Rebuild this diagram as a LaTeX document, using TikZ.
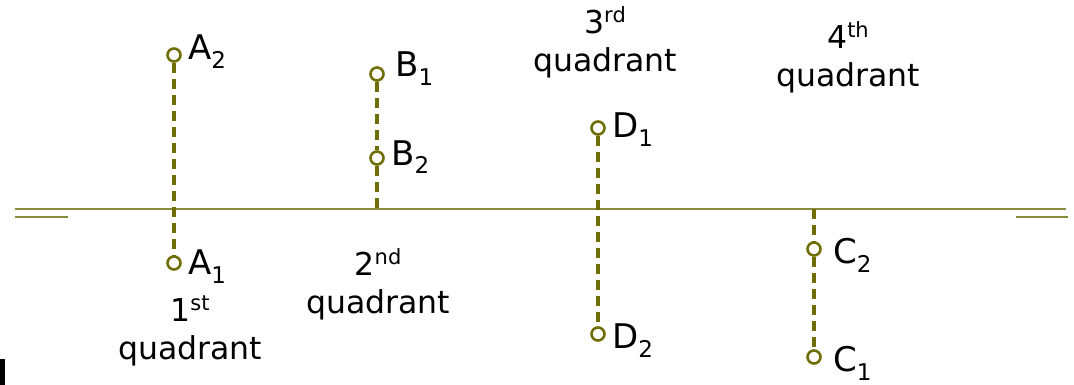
\documentclass[tikz,border=0pt]{standalone}
\usepackage{fontspec}
\setmainfont{DejaVu Sans}
\definecolor{olive1}{HTML}{6E6E05}
\definecolor{axisc}{HTML}{8C8C40}
\begin{document}
\begin{tikzpicture}[x=1pt,y=-1pt,
  pt/.style={circle,draw=olive1,line width=2.6pt,fill=white,minimum size=13pt,inner sep=0pt},
  dl/.style={draw=olive1,line width=4.6pt,dash pattern=on 10pt off 6pt},
  lab/.style={anchor=base west,inner sep=0pt,font=\fontsize{34}{34}\selectfont},
  quad/.style={align=center,inner sep=0pt,font=\fontsize{31.5}{38}\selectfont},
  axis/.style={draw=axisc,line width=2.5pt}]
\useasboundingbox (0,0) rectangle (1074,385);
\newcommand{\sbs}[1]{\raisebox{-9pt}{\fontsize{23}{23}\selectfont #1}}
\newcommand{\sps}[1]{\raisebox{11pt}{\fontsize{21}{21}\selectfont #1}}
% axis
\coordinate (axL) at (15,209);
\coordinate (axR) at (1066,209);
\draw[axis] (axL) -- (axR);
\coordinate (sL1) at (15,217); \coordinate (sL2) at (68,217);
\coordinate (sR1) at (1016,217); \coordinate (sR2) at (1068,217);
\draw[axis,line width=2.8pt] (sL1) -- (sL2);
\draw[axis,line width=2.8pt] (sR1) -- (sR2);
\coordinate (Bax) at (377,209);
\coordinate (Cax) at (814,209);
% points
\node[pt] (A2) at (174,55) {};
\node[pt] (A1) at (174,263) {};
\node[pt] (B1) at (377,74) {};
\node[pt] (B2) at (377,158) {};
\node[pt] (D1) at (598,128) {};
\node[pt] (D2) at (598,334) {};
\node[pt] (C2) at (814,249) {};
\node[pt] (C1) at (814,357) {};
\draw[dl] (A2) -- (A1);
\draw[dl] (B1) -- (B2);
\draw[dl] (B2) -- (Bax);
\draw[dl] (D1) -- (D2);
\draw[dl] (Cax) -- (C2);
\draw[dl] (C2) -- (C1);
% labels
\node[lab] (lA2) at (188,60) {A\sbs{2}};
\node[lab] (lA1) at (188,274) {A\sbs{1}};
\node[lab] (lB1) at (395,77) {B\sbs{1}};
\node[lab] (lB2) at (391,165) {B\sbs{2}};
\node[lab] (lD1) at (612,138) {D\sbs{1}};
\node[lab] (lD2) at (612,348) {D\sbs{2}};
\node[lab] (lC2) at (833,263) {C\sbs{2}};
\node[lab] (lC1) at (833,371) {C\sbs{1}};
% quadrant labels
\node[quad] (q3) at (605,42) {3\sps{rd}\\quadrant};
\node[quad] (q4) at (848,57) {4\sps{th}\\quadrant};
\node[quad] (q2) at (378,284) {2\sps{nd}\\quadrant};
\node[quad] (q1) at (190,331) {1\sps{st}\\quadrant};
% corner mark
\fill[black] (0,359) rectangle (5,385);
\end{tikzpicture}
\end{document}
